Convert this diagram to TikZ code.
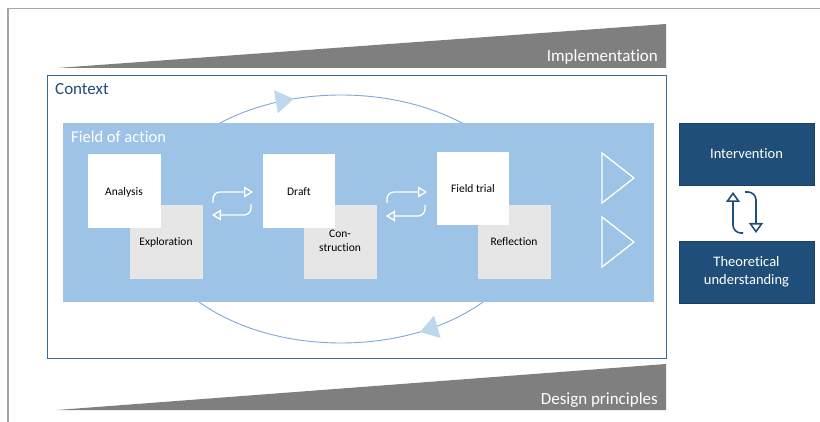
\documentclass[tikz,border=0pt]{standalone}
\usepackage{fontspec}
\setmainfont{Carlito}[Ligatures={NoCommon,NoDiscretionary}]
\usetikzlibrary{arrows.meta,decorations.markings}
\definecolor{fieldblue}{HTML}{9DC3E6}
\definecolor{boxgray}{HTML}{E6E6E6}
\definecolor{navy}{HTML}{1F4E79}
\definecolor{navyline}{HTML}{17406A}
\definecolor{ctxline}{HTML}{3A6A9A}
\definecolor{wedgegray}{HTML}{7F7F7F}
\definecolor{framegray}{HTML}{A6A6A6}
\definecolor{arcline}{HTML}{7FA8DA}
\definecolor{arrowfill}{HTML}{BDD7EE}
\tikzset{
  wedge/.style={fill=wedgegray, draw=none},
  wedgelabel/.style={text=white, font=\fontsize{17}{20}\selectfont, inner sep=0pt},
  whitebox/.style={fill=white, draw=none},
  graybox/.style={fill=boxgray, draw=none},
  stagelabel/.style={font=\fontsize{11.5}{14}\selectfont, inner sep=0pt, align=center},
  navybox/.style={fill=navy, draw=navyline, line width=0.8pt},
  navylabel/.style={text=white, font=\fontsize{14.5}{17.7}\selectfont, align=center, inner sep=0pt},
  cyclearc/.style={draw=arcline, line width=0.9pt},
  swaparrow/.style={draw=white, line width=1.3pt, rounded corners=7pt, -{Triangle[open, length=9pt, width=11pt]}},
  navyarrow/.style={draw=navy, line width=1.6pt, rounded corners=8pt, -{Triangle[open, length=10pt, width=14pt]}},
  playtri/.style={draw=white, line width=1.3pt, line join=miter}
}
\begin{document}
\begin{tikzpicture}[x=1pt, y=-1pt]
\useasboundingbox (0,0) rectangle (820,422);
% outer frame
\coordinate (fa) at (8,422);
\coordinate (fb) at (8,8.5);
\coordinate (fc) at (820,8.5);
\draw[framegray, line width=1.6pt] (fa) -- (fb) -- (fc);
% top wedge
\coordinate (w1a) at (57,68);
\coordinate (w1b) at (666,24);
\coordinate (w1c) at (666,68);
\fill[wedge] (w1a) -- (w1b) -- (w1c) -- cycle;
\node[wedgelabel, anchor=base east] (impl) at (658,62) {Implementation};
% bottom wedge
\coordinate (w2a) at (57,410);
\coordinate (w2b) at (666,364);
\coordinate (w2c) at (666,410);
\fill[wedge] (w2a) -- (w2b) -- (w2c) -- cycle;
\node[wedgelabel, anchor=base east] (dp) at (658,404) {Design principles};
% context box
\node[draw=ctxline, line width=0.8pt, fill=white, minimum width=619pt, minimum height=283pt, anchor=north west, inner sep=0pt] (context) at (47,75) {};
\node[anchor=base west, inner sep=0pt, text=navy, font=\fontsize{17}{20}\selectfont] (contextlbl) at (55,95) {Context};
% cycle arcs (ellipse behind the field)
\coordinate (arcL) at (150,219);
\coordinate (arcR) at (532,219);
\draw[cyclearc, postaction={decorate}, decoration={markings, mark=at position 0.405 with {\arrow{Triangle[length=18pt, width=23pt, color=arrowfill]}}}]
  (arcL) arc[start angle=180, end angle=0, x radius=191pt, y radius=124pt];
\draw[cyclearc, postaction={decorate}, decoration={markings, mark=at position 0.34 with {\arrow{Triangle[length=18pt, width=23pt, color=arrowfill]}}}]
  (arcR) arc[start angle=0, end angle=-180, x radius=191pt, y radius=124pt];
% field of action
\node[fill=fieldblue, draw=none, minimum width=591pt, minimum height=179pt, anchor=north west, inner sep=0pt] (field) at (63,123) {};
\node[anchor=base west, inner sep=0pt, text=white, font=\fontsize{16.5}{20}\selectfont] (fieldlbl) at (71,143) {Field of action};
% stage boxes
\node[graybox, minimum width=73pt, minimum height=74pt, anchor=north west, inner sep=0pt] (explo) at (130,205) {};
\node[whitebox, minimum width=73pt, minimum height=74pt, anchor=north west, inner sep=0pt] (analy) at (88,154) {};
\node[graybox, minimum width=73pt, minimum height=74pt, anchor=north west, inner sep=0pt] (constr) at (304,205) {};
\node[whitebox, minimum width=72pt, minimum height=74pt, anchor=north west, inner sep=0pt] (draft) at (263,154) {};
\node[graybox, minimum width=73pt, minimum height=74pt, anchor=north west, inner sep=0pt] (refl) at (478,205) {};
\node[whitebox, minimum width=72pt, minimum height=73pt, anchor=north west, inner sep=0pt] (trial) at (437,152) {};
\node[stagelabel, anchor=base] (analyT) at (124,196) {Analysis};
\node[stagelabel, anchor=base] (exploT) at (166,246) {Exploration};
\node[stagelabel, anchor=base] (draftT) at (299,196) {Draft};
\node[stagelabel, anchor=base] (con1T) at (340,238) {Con-};
\node[stagelabel, anchor=base] (con2T) at (340,251.5) {struction};
\node[stagelabel, anchor=base] (trialT) at (473,192.5) {Field trial};
\node[stagelabel, anchor=base] (reflT) at (514,246) {Reflection};
% swap arrows
\coordinate (s1a) at (213,203);
\coordinate (s1b) at (213,192);
\coordinate (s1c) at (253,192);
\coordinate (s2a) at (251,204);
\coordinate (s2b) at (251,215);
\coordinate (s2c) at (212,215);
\draw[swaparrow] (s1a) -- (s1b) -- (s1c);
\draw[swaparrow] (s2a) -- (s2b) -- (s2c);
\coordinate (s3a) at (387,203);
\coordinate (s3b) at (387,192);
\coordinate (s3c) at (427,192);
\coordinate (s4a) at (425,205);
\coordinate (s4b) at (425,216);
\coordinate (s4c) at (386,216);
\draw[swaparrow] (s3a) -- (s3b) -- (s3c);
\draw[swaparrow] (s4a) -- (s4b) -- (s4c);
% play triangles
\coordinate (t1a) at (602,153);
\coordinate (t1b) at (634,178);
\coordinate (t1c) at (602,203);
\draw[playtri] (t1a) -- (t1b) -- (t1c) -- cycle;
\coordinate (t2a) at (602,217);
\coordinate (t2b) at (634,242);
\coordinate (t2c) at (602,267);
\draw[playtri] (t2a) -- (t2b) -- (t2c) -- cycle;
% right boxes
\node[navybox, minimum width=135pt, minimum height=62pt, anchor=north west, inner sep=0pt] (interv) at (679,123) {};
\node[navylabel, anchor=base] (intervT) at (746.5,159) {Intervention};
\node[navybox, minimum width=135pt, minimum height=62pt, anchor=north west, inner sep=0pt] (theory) at (679,241) {};
\node[navylabel, anchor=base] (theo1) at (746.5,267) {Theoretical};
\node[navylabel, anchor=base] (theo2) at (746.5,284.5) {understanding};
% navy arrows
\coordinate (n1a) at (743,233);
\coordinate (n1b) at (733,233);
\coordinate (n1c) at (733,192);
\coordinate (n2a) at (745,192);
\coordinate (n2b) at (756,192);
\coordinate (n2c) at (756,233);
\draw[navyarrow] (n1a) -- (n1b) -- (n1c);
\draw[navyarrow] (n2a) -- (n2b) -- (n2c);
\end{tikzpicture}
\end{document}
